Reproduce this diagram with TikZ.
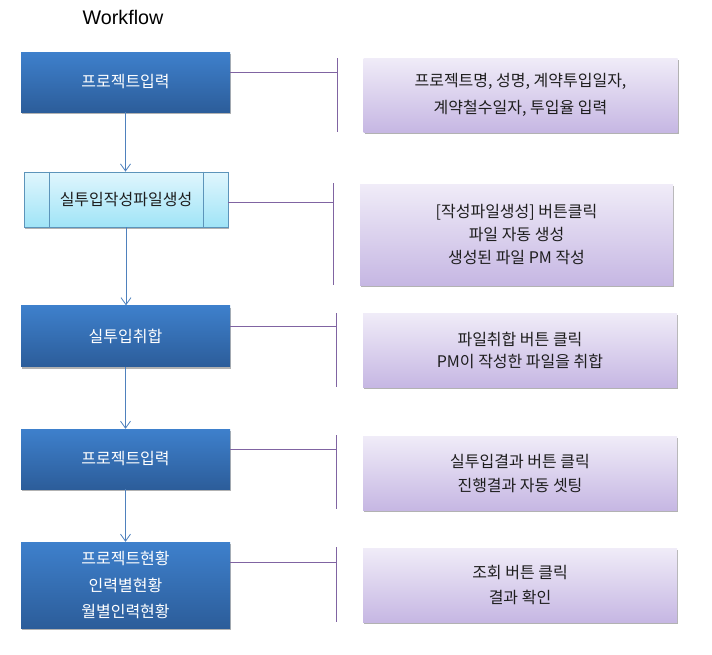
\documentclass[tikz,border=0pt]{standalone}
\usepackage{fontspec}
\setmainfont{Liberation Sans}
\newfontfamily\kr{Noto Sans CJK KR}
\usetikzlibrary{arrows.meta,shadows,calc}
\definecolor{bluetop}{RGB}{62,128,204}
\definecolor{bluebot}{RGB}{44,93,154}
\definecolor{cyantop}{RGB}{224,246,253}
\definecolor{cyanbot}{RGB}{160,228,247}
\definecolor{cyanline}{RGB}{92,148,186}
\definecolor{purtop}{RGB}{240,236,248}
\definecolor{purbot}{RGB}{198,183,227}
\definecolor{arrowblue}{RGB}{79,129,189}
\definecolor{brkpurple}{RGB}{128,100,162}
\definecolor{txtdark}{RGB}{30,30,30}
\tikzset{
  shad/.style={drop shadow={shadow xshift=1pt,shadow yshift=-2pt,opacity=0.3,fill=black}},
  bluebox/.style={shad,top color=bluetop,bottom color=bluebot,draw=none,text=white,
    minimum width=209pt,minimum height=60pt,inner sep=0pt,align=center,
    font=\kr\fontsize{16}{26.5}\selectfont},
  cyanbox/.style={shad,top color=cyantop,bottom color=cyanbot,draw=cyanline,line width=0.8pt,text=txtdark,
    minimum width=204pt,minimum height=55pt,inner sep=0pt,align=center,
    font=\kr\fontsize{16}{26}\selectfont},
  notebox/.style={shad,top color=purtop,bottom color=purbot,draw=none,text=txtdark,
    minimum width=314pt,minimum height=74pt,inner sep=0pt,align=center,
    font=\kr\fontsize{16}{24}\selectfont},
  flowarrow/.style={draw=arrowblue,line width=0.8pt,-{Straight Barb[length=7pt,width=10pt]}},
  brk/.style={draw=brkpurple,line width=0.9pt},
}
\begin{document}
\begin{tikzpicture}[x=1pt,y=-1pt]
\useasboundingbox (0,0) rectangle (712,654);
\node[font=\fontsize{19.7}{21}\selectfont] (title) at (123,17) {Workflow};
% left column
\node[bluebox] (b1) at (125.5,82) {프로젝트입력};
\node[cyanbox] (b2) at (126,199.5) {실투입작성파일생성};
\draw[cyanline,line width=0.8pt] ([xshift=26pt]b2.north west) -- ([xshift=26pt]b2.south west);
\draw[cyanline,line width=0.8pt] ([xshift=-25pt]b2.north east) -- ([xshift=-25pt]b2.south east);
\node[bluebox,minimum height=61pt] (b3) at (125.5,336) {실투입취합};
\node[bluebox] (b4) at (125.5,459) {프로젝트입력};
\node[bluebox,minimum height=86pt] (b5) at (125.5,585) {프로젝트현황\\인력별현황\\월별인력현황};
% right column
\node[notebox,font=\kr\fontsize{16}{27}\selectfont] (n1) at (520.5,95) {프로젝트명, 성명, 계약투입일자,\\계약철수일자, 투입율 입력};
\node[notebox,minimum width=313pt,minimum height=101pt,font=\kr\fontsize{16}{23}\selectfont] (n2) at (516.5,234.5) {[작성파일생성] 버튼클릭\\파일 자동 생성\\생성된 파일 PM 작성};
\node[notebox,font=\kr\fontsize{16}{22}\selectfont] (n3) at (520,350) {파일취합 버튼 클릭\\PM이 작성한 파일을 취합};
\node[notebox] (n4) at (520,473) {실투입결과 버튼 클릭\\진행결과 자동 셋팅};
\node[notebox,font=\kr\fontsize{16}{25}\selectfont] (n5) at (520,585) {조회 버튼 클릭\\결과 확인};
% flow arrows
\draw[flowarrow] (b1.south) -- (b1.south |- b2.north);
\draw[flowarrow] (b2.south) -- (b2.south |- b3.north);
\draw[flowarrow] (b3.south) -- (b3.south |- b4.north);
\draw[flowarrow] (b4.south) -- (b4.south |- b5.north);
% brackets
\coordinate (j1) at (337,72);  \coordinate (t1) at (337,58);  \coordinate (u1) at (337,132);
\coordinate (j2) at (333,202); \coordinate (t2) at (333,183); \coordinate (u2) at (333,285);
\coordinate (j3) at (336,326); \coordinate (t3) at (336,313); \coordinate (u3) at (336,387);
\coordinate (j4) at (336,449); \coordinate (t4) at (336,435); \coordinate (u4) at (336,509);
\coordinate (j5) at (336,562); \coordinate (t5) at (336,547); \coordinate (u5) at (336,622);
\draw[brk] (b1.east |- j1) -- (j1); \draw[brk] (t1) -- (u1);
\draw[brk] (b2.east |- j2) -- (j2); \draw[brk] (t2) -- (u2);
\draw[brk] (b3.east |- j3) -- (j3); \draw[brk] (t3) -- (u3);
\draw[brk] (b4.east |- j4) -- (j4); \draw[brk] (t4) -- (u4);
\draw[brk] (b5.east |- j5) -- (j5); \draw[brk] (t5) -- (u5);
\end{tikzpicture}
\end{document}
